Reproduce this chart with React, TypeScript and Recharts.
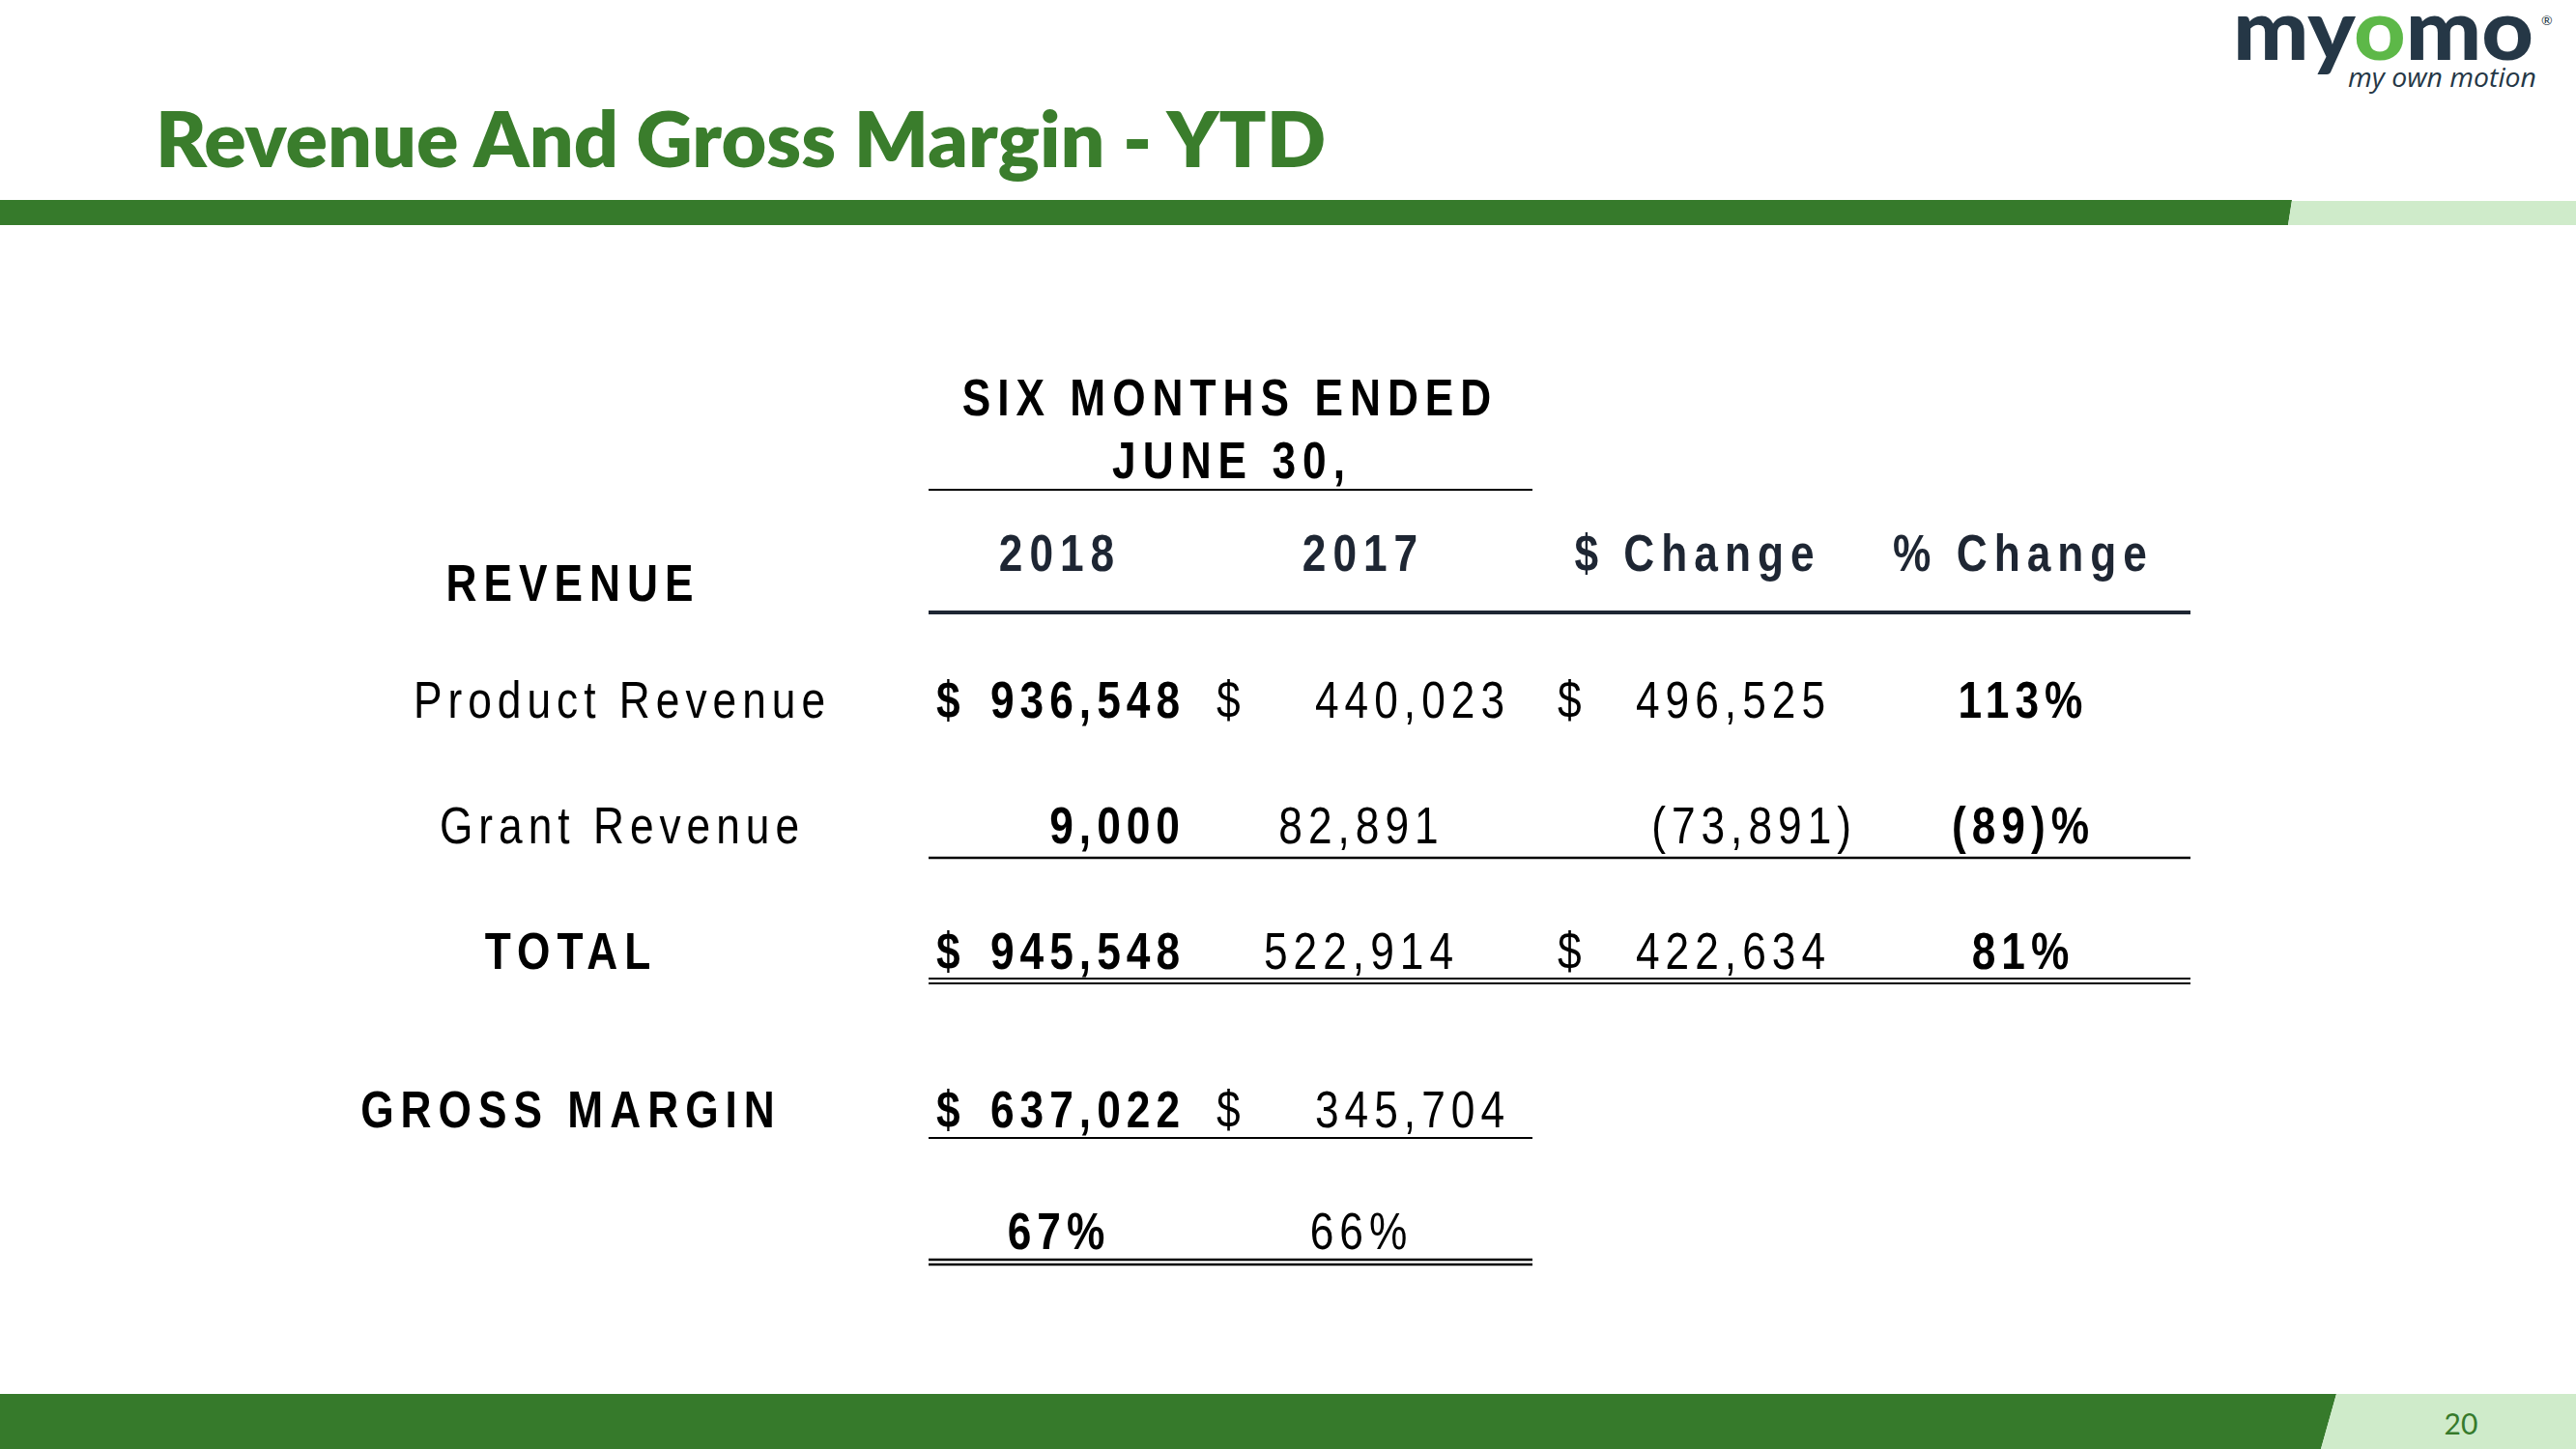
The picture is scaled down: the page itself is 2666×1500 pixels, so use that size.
import React from 'react'
import { ScatterChart, Scatter, XAxis, YAxis } from 'recharts'

const columns = ['2018', '2017', '$ Change', '% Change']
const revenueRows = ['Product Revenue', 'Grant Revenue', 'TOTAL']
const marginRows = ['GROSS MARGIN', ' ']

const revenue2018 = [936548, 9000, 945548]
const revenue2017 = [440023, 82891, 522914]
const dollarChange = [496525, -73891, 422634]
const percentChange = [113, -89, 81]
const dollar2018 = [true, false, true]
const dollar2017 = [true, false, false]
const dollarOnChange = [true, false, true]

const grossMargin = [637022, 345704]
const grossMarginPct = [67, 66]

type Cell = { row: string; col: string; value: number | null; unit: 'usd' | 'pct'; dollar: boolean }

const revenueCells: Cell[] = revenueRows.flatMap((row, i) => [
  { row, col: columns[0], value: revenue2018[i], unit: 'usd', dollar: dollar2018[i] },
  { row, col: columns[1], value: revenue2017[i], unit: 'usd', dollar: dollar2017[i] },
  { row, col: columns[2], value: dollarChange[i], unit: 'usd', dollar: dollarOnChange[i] },
  { row, col: columns[3], value: percentChange[i], unit: 'pct', dollar: false },
] as Cell[])

// gross margin only has the two year columns; the rest stay empty so the bands line up
const marginCells: Cell[] = [
  ...columns.map((col, c) => ({ row: marginRows[0], col, value: c < 2 ? grossMargin[c] : null, unit: 'usd', dollar: c < 2 } as Cell)),
  ...columns.map((col, c) => ({ row: marginRows[1], col, value: c < 2 ? grossMarginPct[c] : null, unit: 'pct', dollar: false } as Cell)),
]

// no Arial Narrow here, so squeeze Liberation Sans horizontally
const FONT = "'Liberation Sans', Arial, sans-serif"
const NARROW = 0.82
const BAND = 334
const GREEN = '#367A2B'
const LIGHT = '#CFEBCA'
const NAVY = '#1E2633'
const boldRows = ['TOTAL', 'GROSS MARGIN']
const headerNudge = [8, -12, 0, 3]

const fmt = (d: Cell) => {
  const v = d.value as number
  const s = Math.abs(v).toLocaleString('en-US')
  if (d.unit === 'pct') return v < 0 ? `(${s})%` : `${s}%`
  return v < 0 ? `(${s})` : s
}

function NText({ x, y, anchor = 'start', bold = false, ls = 6, fill = '#000', children }: any) {
  return (
    <text transform={`translate(${x} ${y}) scale(${NARROW} 1)`} x={0} y={0} textAnchor={anchor}
      fontFamily={FONT} fontSize={54} fontWeight={bold ? 700 : 400} letterSpacing={ls / NARROW} fill={fill}>
      {children}
    </text>
  )
}

function CellText(props: any) {
  const { cx, cy, payload } = props
  if (payload == null || payload.value == null) return <g />
  const c = columns.indexOf(payload.col)
  const left = cx - BAND / 2
  const right = cx + BAND / 2
  const base = cy + 18
  const bold = c === 0 || c === 3
  const txt = fmt(payload)
  if (payload.unit === 'pct') {
    return <NText x={cx + [7, -14, 0, 3][c] + 3} y={base} anchor="middle" bold={bold}>{txt}</NText>
  }
  if (c === 1 && !payload.dollar) {
    return <NText x={cx - 14 + 3} y={base} anchor="middle" bold={bold}>{txt}</NText>
  }
  let end = right - [30, 28, 30][c] + 4
  if (payload.value < 0) end += 27
  return (
    <g>
      {payload.dollar && <NText x={left + [50, 6, 25][c]} y={base} bold={bold}>$</NText>}
      <NText x={end} y={base} anchor="end" bold={bold}>{txt}</NText>
    </g>
  )
}

function RowTick({ x, y, payload }: any) {
  const bold = boldRows.includes(payload.value)
  return (
    <NText x={x - (bold ? 331 : 278) + 3} y={y + 18} anchor="middle" bold={bold} ls={bold ? 7 : 6}>
      {payload.value}
    </NText>
  )
}

function ColTick({ x, y, payload, index }: any) {
  return (
    <NText x={x + 3 + (headerNudge[index] ?? 0)} y={y - 69} anchor="middle" bold ls={7} fill={NAVY}>
      {payload.value}
    </NText>
  )
}

const hline = (x1: number, x2: number, y: number, w: number, color = '#000') => (
  <line x1={x1} x2={x2} y1={y} y2={y} stroke={color} strokeWidth={w} />
)

export default function App() {
  return (
    <div style={{ position: 'absolute', left: 0, top: 0, width: 2666, height: 1500, background: '#fff', overflow: 'hidden' }}>
      <svg width={2666} height={1500} style={{ position: 'absolute', left: 0, top: 0 }}>
        {/* header band */}
        <polygon points="0,207 2372,207 2368,233 0,233" fill={GREEN} />
        <polygon points="2372,208 2666,208 2666,233 2368,233" fill={LIGHT} />
        <text x={161} y={173} fontFamily="Lato, 'Open Sans', sans-serif" fontWeight={800} fontSize={80}
          fill="#3A7D2C" textLength={1211} lengthAdjust="spacingAndGlyphs">
          Revenue And Gross Margin - YTD
        </text>
        {/* logo */}
        <text x={2311} y={62} fontFamily="Lato, sans-serif" fontWeight={900} fontSize={88}
          textLength={311} lengthAdjust="spacingAndGlyphs">
          <tspan fill="#253746">my</tspan><tspan fill="#5DB848">o</tspan><tspan fill="#253746">mo</tspan>
        </text>
        <text x={2630} y={26} fontFamily="Lato, sans-serif" fontSize={14} fill="#253746">®</text>
        <text x={2430} y={90} fontFamily="'Open Sans', sans-serif" fontStyle="italic" fontSize={27}
          fill="#253746" textLength={195} lengthAdjust="spacingAndGlyphs">
          my own motion
        </text>

        {/* table headings */}
        <NText x={1273} y={430} anchor="middle" bold ls={7}>SIX MONTHS ENDED</NText>
        <NText x={1275} y={495} anchor="middle" bold ls={7}>JUNE 30,</NText>
        <NText x={593} y={622} anchor="middle" bold ls={7}>REVENUE</NText>

        {/* rules */}
        {hline(961, 1586, 507, 2)}
        {hline(961, 2267, 634, 4, NAVY)}
        {hline(961, 2267, 888, 2.5)}
        {hline(961, 2267, 1013, 2)}
        {hline(961, 2267, 1018, 2)}
        {hline(961, 1586, 1178, 2)}
        {hline(961, 1586, 1304, 2.5)}
        {hline(961, 1586, 1309, 2.5)}

        {/* footer band */}
        <polygon points="0,1443 2418,1443 2402,1500 0,1500" fill={GREEN} />
        <polygon points="2418,1443 2666,1443 2666,1500 2402,1500" fill={LIGHT} />
        <text x={2547} y={1485} textAnchor="middle" fontFamily="Lato, sans-serif" fontSize={30} fill={GREEN}>20</text>
      </svg>

      <div style={{ position: 'absolute', left: 0, top: 520 }}>
        <ScatterChart width={2666} height={540} margin={{ top: 0, right: 411, bottom: 10, left: 0 }}>
          <XAxis dataKey="col" type="category" orientation="top" allowDuplicatedCategory={false}
            height={140} axisLine={false} tickLine={false} tickSize={0} tickMargin={0} tick={<ColTick />} interval={0} />
          <YAxis dataKey="row" type="category" reversed allowDuplicatedCategory={false}
            width={919} axisLine={false} tickLine={false} tickSize={0} tickMargin={0} tick={<RowTick />} interval={0} />
          <Scatter data={revenueCells} shape={<CellText />} isAnimationActive={false} />
        </ScatterChart>
      </div>

      <div style={{ position: 'absolute', left: 0, top: 1086 }}>
        <ScatterChart width={2666} height={262} margin={{ top: 0, right: 411, bottom: 10, left: 0 }}>
          <XAxis dataKey="col" type="category" allowDuplicatedCategory={false} hide />
          <YAxis dataKey="row" type="category" reversed allowDuplicatedCategory={false}
            width={919} axisLine={false} tickLine={false} tickSize={0} tickMargin={0} tick={<RowTick />} interval={0} />
          <Scatter data={marginCells} shape={<CellText />} isAnimationActive={false} />
        </ScatterChart>
      </div>
    </div>
  )
}
